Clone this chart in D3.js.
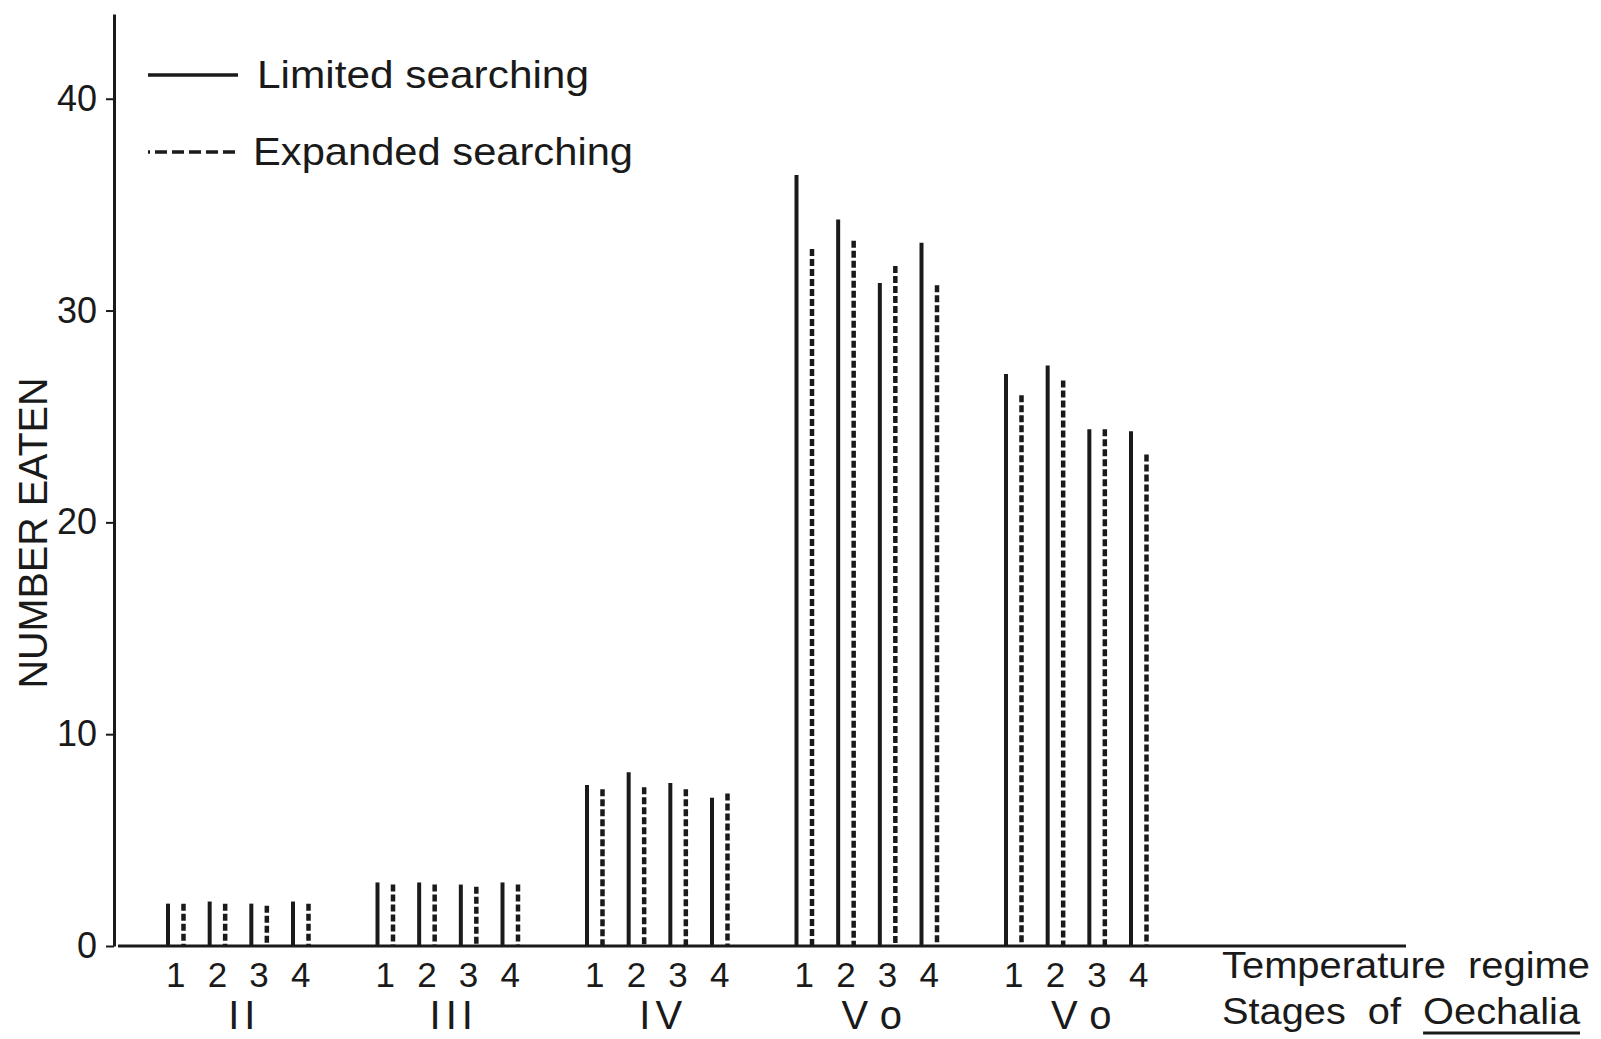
<!DOCTYPE html>
<html>
<head>
<meta charset="utf-8">
<script src="https://cdn.jsdelivr.net/npm/d3@7"></script>
<style>
  body { margin: 0; background: #fff; }
  svg { display: block; }
  text { fill: #1a1a1a; font-family: "Liberation Sans", Arial, sans-serif; }
</style>
</head>
<body>
<script>
// chart size
const width = 1601;
const height = 1039;
const margin = { top: 14, right: 195, bottom: 94, left: 114 };

// data
const stages = ["II", "III", "IV", "Vo-a", "Vo-b"];
const stageLabels = ["II", "III", "IV", "Vo", "Vo"];
const regimes = ["1", "2", "3", "4"];
const series = ["Limited searching", "Expanded searching"];
const limited = [
  [2.0, 2.1, 2.0, 2.1],
  [3.0, 3.0, 2.9, 3.0],
  [7.6, 8.2, 7.7, 7.0],
  [36.4, 34.3, 31.3, 33.2],
  [27.0, 27.4, 24.4, 24.3]
];
const expanded = [
  [2.0, 2.0, 1.9, 2.0],
  [2.9, 2.9, 2.8, 2.9],
  [7.4, 7.5, 7.4, 7.2],
  [32.9, 33.3, 32.1, 31.2],
  [26.0, 26.7, 24.4, 23.2]
];
const yTicks = [0, 10, 20, 30, 40];

// flat table for drawing
const rows = [];
stages.forEach((s, i) => regimes.forEach((r, j) => {
  rows.push({ stage: s, regime: r, series: series[0], value: limited[i][j] });
  rows.push({ stage: s, regime: r, series: series[1], value: expanded[i][j] });
}));

const svg = d3.select('body')
  .append('svg')
  .attr('width', width)
  .attr('height', height);

// scales
const x0 = d3.scalePoint()
  .domain(stages)
  .range([168, 1006]);

const x1 = d3.scalePoint()
  .domain(regimes)
  .range([0, 125]);

const xs = d3.scalePoint()
  .domain(series)
  .range([0, 15.5]);

const y = d3.scaleLinear()
  .domain([0, 44])
  .range([946, margin.top]);

const barX = d => x0(d.stage) + x1(d.regime) + xs(d.series);

// bars (drawn as vertical lines from the top down, like the original)
svg.append('g')
  .selectAll('line')
  .data(rows)
  .join('line')
    .attr('x1', barX)
    .attr('x2', barX)
    .attr('y1', d => y(d.value))
    .attr('y2', y(0))
    .attr('stroke', '#1a1a1a')
    .attr('stroke-width', d => d.series === series[1] ? 4.5 : 4)
    .attr('stroke-dasharray', d => d.series === series[1] ? '7 3' : null);

// x baseline
svg.append('line')
  .attr('x1', margin.left + 4)
  .attr('x2', width - margin.right)
  .attr('y1', y(0))
  .attr('y2', y(0))
  .attr('stroke', '#1a1a1a')
  .attr('stroke-width', 3);

// y axis
svg.append('g')
  .attr('transform', `translate(${margin.left}, 0)`)
  .call(d3.axisLeft(y).tickValues(yTicks).tickSize(8).tickSizeOuter(0).tickPadding(9))
  .call(g => g.select('.domain').attr('stroke', '#1a1a1a').attr('stroke-width', 3))
  .call(g => g.selectAll('.tick line').attr('stroke', '#1a1a1a').attr('stroke-width', 2))
  .call(g => g.selectAll('.tick text')
    .attr('font-size', 36)
    .attr('font-family', '"Liberation Sans", Arial, sans-serif')
    .attr('fill', '#1a1a1a'));

svg.append('text')
  .attr('transform', `translate(47, 533) rotate(-90)`)
  .attr('text-anchor', 'middle')
  .attr('font-size', 40)
  .attr('textLength', 311)
  .attr('lengthAdjust', 'spacingAndGlyphs')
  .text('NUMBER EATEN');

// regime numbers under each bar pair
svg.append('g')
  .selectAll('text')
  .data(stages.flatMap(s => regimes.map(r => ({ stage: s, regime: r }))))
  .join('text')
    .attr('x', d => x0(d.stage) + x1(d.regime) + xs.range()[1] / 2)
    .attr('y', 987)
    .attr('text-anchor', 'middle')
    .attr('font-size', 35)
    .text(d => d.regime);

// stage labels
svg.append('g')
  .selectAll('text')
  .data(stages)
  .join('text')
    .attr('x', (d, i) => x0(d) + (x1.range()[1] + xs.range()[1]) / 2 + (stageLabels[i] === 'Vo' ? 12 : 6))
    .attr('y', 1029)
    .attr('text-anchor', 'middle')
    .attr('font-size', 40)
    .attr('letter-spacing', (d, i) => stageLabels[i] === 'Vo' ? 14 : 5)
    .text((d, i) => stageLabels[i]);

// axis titles on the right
svg.append('text')
  .attr('x', 1222)
  .attr('y', 978)
  .attr('font-size', 37)
  .attr('textLength', 368)
  .attr('lengthAdjust', 'spacingAndGlyphs')
  .attr('xml:space', 'preserve')
  .text('Temperature  regime');

const stageTitle = svg.append('text')
  .attr('x', 1222)
  .attr('y', 1024)
  .attr('font-size', 37)
  .attr('textLength', 358)
  .attr('lengthAdjust', 'spacingAndGlyphs')
  .attr('xml:space', 'preserve')
  .text('Stages  of  Oechalia');

// underline the genus name
const node = stageTitle.node();
const start = 'Stages  of  '.length;
const ux = node.getStartPositionOfChar(start).x;
const uw = node.getSubStringLength(start, 'Oechalia'.length);
svg.append('line')
  .attr('x1', ux)
  .attr('x2', ux + uw)
  .attr('y1', 1033)
  .attr('y2', 1033)
  .attr('stroke', '#1a1a1a')
  .attr('stroke-width', 3);

// legend
const legend = svg.append('g')
  .selectAll('g')
  .data(series)
  .join('g')
    .attr('transform', (d, i) => `translate(148, ${75 + i * 77})`);

legend.append('line')
  .attr('x1', 0)
  .attr('x2', 90)
  .attr('stroke', '#1a1a1a')
  .attr('stroke-width', 3.5)
  .attr('stroke-dasharray', (d, i) => i ? '2 5 12 5 12 5 12 5 12 5 12 5' : null);

legend.append('text')
  .attr('x', (d, i) => i ? 105 : 109)
  .attr('y', 13)
  .attr('font-size', 39)
  .attr('textLength', (d, i) => i ? 380 : 332)
  .attr('lengthAdjust', 'spacingAndGlyphs')
  .text(d => d);
</script>
</body>
</html>
